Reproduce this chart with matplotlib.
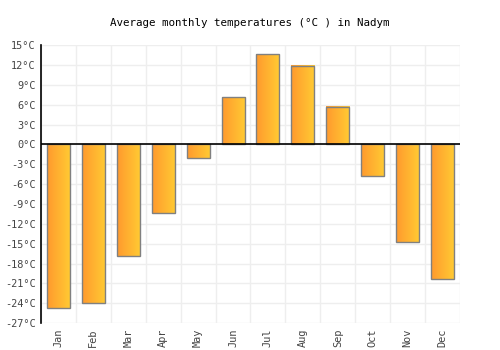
import numpy as np
import matplotlib
matplotlib.use("Agg")
import matplotlib.pyplot as plt
from matplotlib.colors import LinearSegmentedColormap

months = ["Jan", "Feb", "Mar", "Apr", "May", "Jun",
          "Jul", "Aug", "Sep", "Oct", "Nov", "Dec"]
temps = [-24.7, -24.0, -16.9, -10.4, -2.0, 7.1,
         13.6, 11.8, 5.7, -4.8, -14.8, -20.4]
yticks = list(range(-27, 16, 3))

plt.rcParams['font.family'] = ['DejaVu Sans Mono']

fig = plt.figure(figsize=(5, 3.5), dpi=100)
ax = fig.add_axes([0.082, 0.077, 0.838, 0.794])

x = np.arange(len(months))
width = 0.66
grad = LinearSegmentedColormap.from_list("g", ["#ff9a2e", "#ffcb33"])
gimg = np.linspace(0, 1, 64).reshape(1, -1)

# each bar gets a left-to-right orange gradient
for xi, t in zip(x, temps):
    y0, y1 = min(0, t), max(0, t)
    ax.imshow(gimg, cmap=grad, extent=[xi - width / 2, xi + width / 2, y0, y1],
              aspect='auto', zorder=2)
ax.bar(x, temps, width=width, facecolor='none', edgecolor='#808080',
       linewidth=1.0, zorder=3)

ax.set_xlim(-0.5, len(months) - 0.5)
ax.set_ylim(-27, 15)
ax.set_yticks(yticks)
ax.set_yticklabels([f"{v}°C" for v in yticks])
ax.set_xticks(x)
ax.set_xticklabels(months, rotation=90)
ax.set_xticks(np.arange(-0.5, len(months), 1), minor=True)

ax.grid(True, which='minor', axis='x', color='#eeeeee', linewidth=1, zorder=0)
ax.grid(True, which='major', axis='y', color='#eeeeee', linewidth=1, zorder=0)
ax.tick_params(axis='both', which='both', length=0, labelsize=7.4,
               labelcolor='#444444')
ax.tick_params(axis='x', pad=4)
ax.tick_params(axis='y', pad=4)

ax.axhline(0, color='black', linewidth=1.2, zorder=4)
for s in ['top', 'right', 'bottom']:
    ax.spines[s].set_visible(False)
ax.spines['left'].set_color('black')
ax.spines['left'].set_linewidth(1.2)
ax.spines['left'].set_zorder(5)

fig.text(0.5, 0.934, "Average monthly temperatures (°C ) in Nadym",
         ha='center', va='center', fontsize=7.8, color='black')

fig.savefig("out.png", dpi=100)
